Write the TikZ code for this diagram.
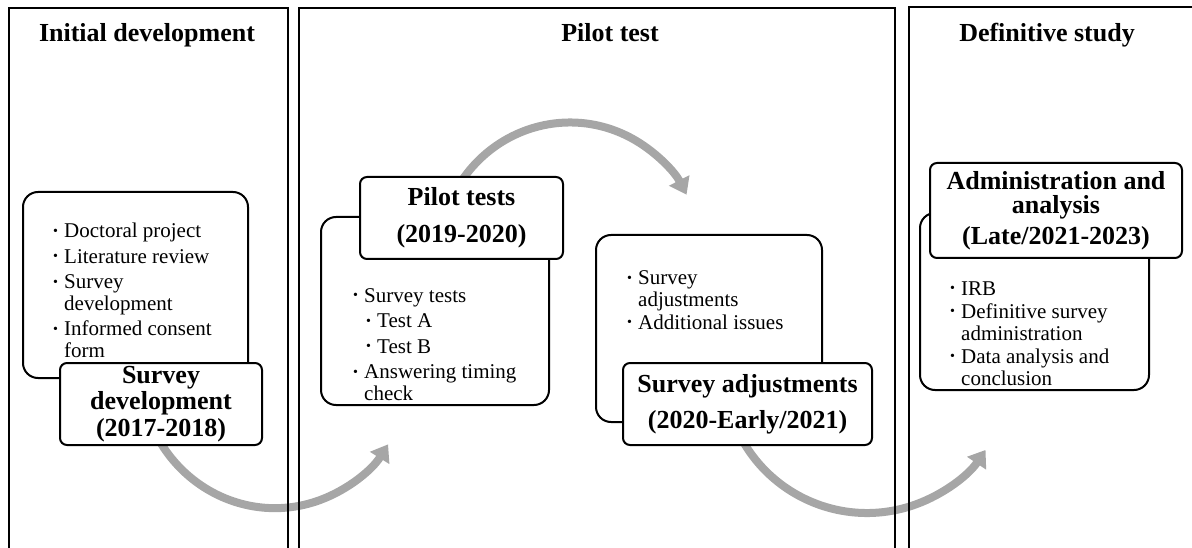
\documentclass[tikz,border=0pt]{standalone}
\usepackage{fontspec}
\setmainfont{Liberation Serif}
\usepackage{tikz}
\usetikzlibrary{
  arrows.meta,
  positioning
}
\newcommand{\bul}{\makebox[11pt][l]{\raisebox{2.5pt}{\fontsize{14}{14}\selectfont\textbullet}}}
\newcommand{\cont}{\hspace*{11pt}}
\definecolor{arcgray}{HTML}{A6A6A6}
\tikzset{
  panel/.style={
    draw,
    line width=2.6pt,
    anchor=north west,
    inner sep=0pt,
    outer sep=0pt
  },
  paneltitle/.style={anchor=base,font=\bfseries\fontsize{26}{26}\selectfont},
  backbox/.style={
    draw,
    line width=2pt,
    rounded corners=15pt,
    fill=white,
    anchor=north west,
    inner sep=0pt,
    outer sep=0pt
  },
  frontbox/.style={
    draw,
    line width=2pt,
    rounded corners=7pt,
    fill=white,
    anchor=north west,
    align=center,
    inner sep=0pt,
    outer sep=0pt,
    font=\bfseries\fontsize{26}{26.5}\selectfont
  },
  % base anchor of a multi-line node sits on its last line
  bullets/.style={align=left,anchor=base west,inner sep=0pt,font=\fontsize{21}{21.5}\selectfont},
  cyclearrow/.style={draw=arcgray,line width=8pt,-{Triangle[width=22pt,length=16pt]}},
}

\begin{document}
\begin{tikzpicture}[x=1pt,y=-1pt]
  \useasboundingbox (0,0) rectangle (1192,548);
  \clip (0,0) rectangle (1192,548);

  % grey cycle arrows, behind everything
  \coordinate (devout) at (148,416);
  \coordinate (pilotout) at (455.7,190.5);
  \coordinate (adjout) at (732.6,418.9);
  \draw[cyclearrow] (devout) arc[start angle=160,end angle=33,x radius=135,y radius=140];
  \draw[cyclearrow] (pilotout) arc[start angle=210,end angle=332,x radius=132,y radius=136];
  \draw[cyclearrow] (adjout) arc[start angle=160,end angle=34,radius=143];

  % stages
  \node[panel,minimum width=279pt,minimum height=600pt] (initpanel) at (9,8) {};
  \node[panel,minimum width=596pt,minimum height=600pt] (pilotpanel) at (299,8) {};
  \node[panel,minimum width=341pt,minimum height=600pt] (defpanel) at (909,7) {};
  \node[paneltitle] (inittitle) at (147,42) {Initial development};
  \node[paneltitle] (pilottitle) at (610,42) {Pilot test};
  \node[paneltitle] (deftitle) at (1047,42) {Definitive study};

  % survey development
  \node[backbox,minimum width=225pt,minimum height=186pt] (devback) at (23,192) {};
  \node[bullets] (devlist) at (53,357) {
    \bul Doctoral project\\[4pt]
    \bul Literature review\\[4pt]
    \bul Survey\\\cont development\\[4pt]
    \bul Informed consent\\\cont form
  };
  \node[frontbox,minimum width=202pt,minimum height=82pt] (devbox) at (60,363) {
    Survey\\development\\(2017-2018)
  };

  % pilot tests
  \node[backbox,minimum width=228pt,minimum height=188pt] (pilotback) at (321,217) {};
  \node[bullets] (pilotlist) at (353,400) {
    \bul Survey tests\\[4pt]
    \hspace*{13pt}\bul Test A\\[4pt]
    \hspace*{13pt}\bul Test B\\[4pt]
    \bul Answering timing\\\cont check
  };
  \node[frontbox,minimum width=203pt,minimum height=82pt] (pilotbox) at (360,177) {
    Pilot tests\\[10.5pt](2019-2020)
  };

  % survey adjustments
  \node[backbox,minimum width=226pt,minimum height=187pt] (adjback) at (596,235) {};
  \node[bullets] (adjlist) at (627,329) {
    \bul Survey\\\cont adjustments\\[1.5pt]
    \bul Additional issues
  };
  \node[frontbox,minimum width=249pt,minimum height=82pt] (adjbox) at (623,363) {
    Survey adjustments\\[9.5pt](2020-Early/2021)
  };

  % administration and analysis
  \node[backbox,minimum width=229pt,minimum height=177pt] (adminback) at (920,213) {};
  \node[bullets,font=\fontsize{21}{22}\selectfont] (adminlist) at (950,385) {
    \bul IRB\\[1pt]
    \bul Definitive survey\\\cont administration\\[1pt]
    \bul Data analysis and\\\cont conclusion
  };
  \node[frontbox,minimum width=252pt,minimum height=95pt,font=\bfseries\fontsize{26}{24}\selectfont] (adminbox) at (930,163) {
    Administration and\\analysis\\[7pt](Late/2021-2023)
  };
\end{tikzpicture}
\end{document}
